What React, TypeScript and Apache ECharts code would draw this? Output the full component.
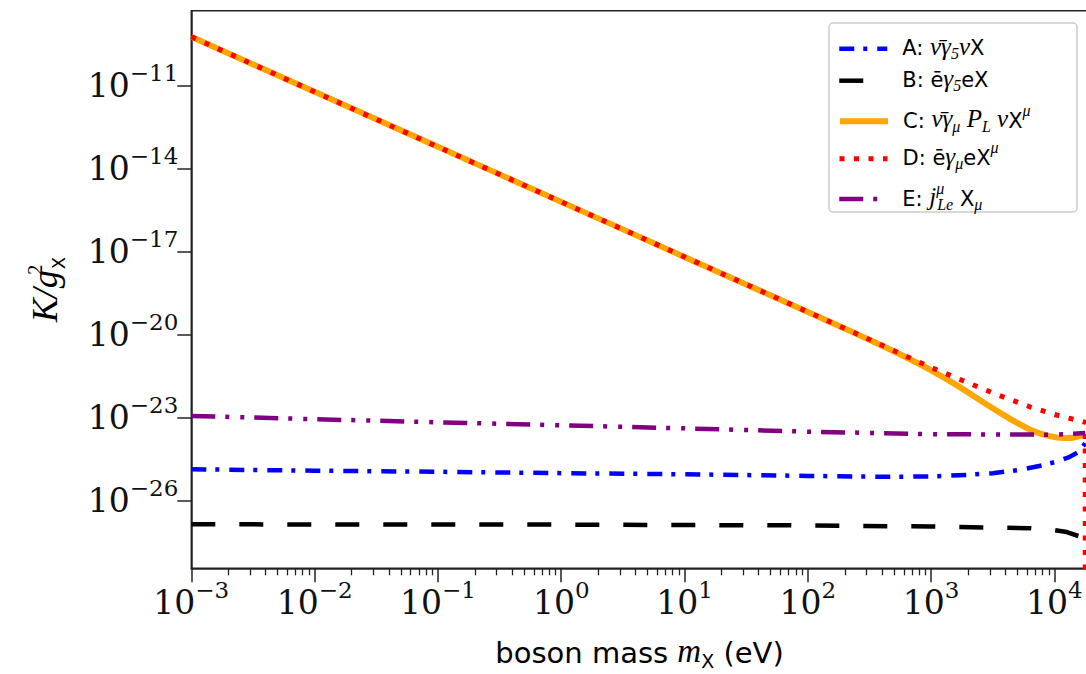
import React, { useEffect, useRef } from "react";
import * as echarts from "echarts";

// log10 of boson mass (eV) and log10 of K/g^2 for each curve
const xA = [-3, -2, -1, 0, 1, 2, 2.6, 3, 3.3, 3.5, 3.72, 3.9, 4.02, 4.12, 4.2, 4.25];
const yA = [-24.88, -24.93, -24.97, -25.02, -25.06, -25.12, -25.15, -25.14, -25.08, -25.02, -24.9, -24.74, -24.6, -24.44, -24.24, -23.94];

const xB = [-3, 0, 2, 3, 3.8, 4, 4.1, 4.2, 4.25];
const yB = [-26.87, -26.88, -26.91, -26.95, -27.01, -27.08, -27.15, -27.3, -27.4];

const xC = [-3, -2, -1, 0, 1, 2, 2.3, 2.586, 2.8, 3, 3.2, 3.41, 3.6, 3.72, 3.8, 3.88, 3.97, 4.07, 4.15, 4.25];
const yC = [-9.245, -11.234, -13.223, -15.212, -17.201, -19.19, -19.79, -20.38, -20.84, -21.3, -21.82, -22.42, -22.95, -23.26, -23.44, -23.58, -23.69, -23.75, -23.74, -23.62];

const xD = [-3, 2, 2.5, 3, 3.5, 3.8, 4, 4.25, 4.25];
const yD = [-9.245, -19.19, -20.19, -21.2, -22.12, -22.62, -22.9, -23.18, -29];

const xE = [-3, -2, -1, 0, 1, 2, 3, 4, 4.25];
const yE = [-22.95, -23.07, -23.18, -23.29, -23.4, -23.52, -23.61, -23.63, -23.57];

const xTickExps = [-3, -2, -1, 0, 1, 2, 3, 4];
const yTickExps = [-26, -23, -20, -17, -14, -11];
const minorMultipliers = [2, 3, 4, 5, 6, 7, 8, 9];

const X_MIN = -3;
const X_MAX = 4.27;
const Y_MIN = -28.46;
const Y_MAX = -8.3;

const seriesNames = ["A", "B", "C", "D", "E"];
const legendTexts: Record<string, string> = {
  A: "{g| }{t|A: }{m|ν̄γ}{sub|5}{m|ν}{t|X}",
  B: "{g| }{t|B: ē}{m|γ}{sub|5}{t|eX}",
  C: "{g| }{t|C: }{m|ν̄γ}{sub|μ}{m| P}{sub|L}{m| ν}{t|X}{sup|μ}",
  D: "{g| }{t|D: ē}{m|γ}{sub|μ}{t|eX}{sup|μ}",
  E: "{g| }{t|E: }{m|j}{supz|μ}{sub|Le}{t| X}{sub|μ}",
};
const legendCentersY = [40.7, 72.7, 109.3, 146.7, 187];

const colors = ["#0000ff", "#000000", "#ffa500", "#ff0000", "#800080"];
const widths = [4.5, 4.5, 6, 5, 4.5];
const dashes: (number[] | string)[] = [[15, 9, 4, 10], [24, 24], "solid", [5, 9.5], [24, 10, 4, 11, 4, 10]];
const smoothing = [false, false, 0.25, false, false];

const pairs = (xs: number[], ys: number[]) => xs.map((x, i) => [x, ys[i]]);

const expLabel = (v: number) => {
  const n = Math.round(v);
  const s = n < 0 ? "−" + Math.abs(n) : String(n);
  return `{b|10}{s|${s}}`;
};

const tickRich = {
  b: { fontFamily: "DejaVu Serif", fontSize: 33, lineHeight: 34, color: "#111", verticalAlign: "bottom" },
  s: { fontFamily: "DejaVu Serif", fontSize: 23, lineHeight: 24, color: "#111", verticalAlign: "bottom", padding: [0, 0, 18, 0] },
};

const legendRich = {
  g: { width: 10, fontSize: 10 },
  t: { fontFamily: "DejaVu Sans", fontSize: 21, lineHeight: 26, color: "#000", verticalAlign: "bottom", padding: [0, 0, 3, 0] },
  m: { fontFamily: "Liberation Serif", fontStyle: "italic", fontSize: 25, lineHeight: 26, color: "#000", verticalAlign: "bottom", padding: [0, 0, 3, 0] },
  sub: { fontFamily: "Liberation Serif", fontStyle: "italic", fontSize: 16, lineHeight: 15, color: "#000", verticalAlign: "bottom" },
  sup: { fontFamily: "Liberation Serif", fontStyle: "italic", fontSize: 16, lineHeight: 15, color: "#000", verticalAlign: "bottom", padding: [0, 0, 16, 0] },
  supz: { fontFamily: "Liberation Serif", fontStyle: "italic", fontSize: 16, lineHeight: 15, width: 1, color: "#000", verticalAlign: "bottom", padding: [0, 0, 16, 0] },
};

export default function App() {
  const ref = useRef<HTMLDivElement>(null);
  useEffect(() => {
    if (!ref.current) return;
    const chart = echarts.init(ref.current, undefined, { renderer: "svg" });
    const xMinor: number[] = [];
    xTickExps.forEach((n) => {
      minorMultipliers.forEach((k) => {
        const v = n + Math.log10(k);
        if (v < X_MAX) xMinor.push(v);
      });
    });
    const datas = [pairs(xA, yA), pairs(xB, yB), pairs(xC, yC), pairs(xD, yD), pairs(xE, yE)];
    const series = seriesNames.map((name, i) => ({
      name,
      type: "line",
      data: datas[i],
      symbol: "none",
      showSymbol: false,
      smooth: smoothing[i],
      clip: true,
      z: 2 + i,
      itemStyle: { color: colors[i] },
      lineStyle: { color: colors[i], width: widths[i], type: dashes[i], cap: "butt" },
    }));
    const legends = seriesNames.map((name, i) => ({
      data: [name],
      left: 837,
      top: legendCentersY[i] - 7,
      padding: 0,
      itemWidth: 48,
      itemHeight: 14,
      selectedMode: false,
      z: 5,
      itemStyle: { opacity: 0, color: "transparent", borderWidth: 0 },
      lineStyle: { color: colors[i], width: widths[i], type: dashes[i], cap: "butt" },
      formatter: (n: string) => legendTexts[n],
      textStyle: { rich: legendRich },
    }));
    const axisColor = "#222";
    chart.setOption({
      animation: false,
      grid: {
        left: 191.3,
        top: 10.7,
        width: 896.4,
        height: 557.6,
        show: true,
        borderColor: axisColor,
        borderWidth: 1.5,
        backgroundColor: "transparent",
        containLabel: false,
        outerBoundsMode: "none",
      },
      graphic: [
        {
          type: "rect",
          z: 4,
          shape: { x: 829, y: 23, width: 248, height: 189, r: 4 },
          style: { fill: "rgba(255,255,255,0.85)", stroke: "#cccccc", lineWidth: 1.5 },
        },
      ],
      legend: legends,
      xAxis: [
        {
          type: "value",
          min: X_MIN,
          max: X_MAX,
          position: "bottom",
          axisLine: { show: true, onZero: false, lineStyle: { color: axisColor, width: 1.5 } },
          axisTick: { show: true, length: 14, customValues: xTickExps, lineStyle: { color: axisColor, width: 1.5 } },
          axisLabel: { customValues: xTickExps, formatter: expLabel, margin: 17, rich: tickRich },
          splitLine: { show: false },
          name: "{t|boson mass }{i|m}{sub|X}{t| (eV)}",
          nameLocation: "middle",
          nameGap: 72,
          nameTextStyle: {
            rich: {
              t: { fontFamily: "DejaVu Sans", fontSize: 29, lineHeight: 30, color: "#000", verticalAlign: "bottom", padding: [0, 0, 3, 0] },
              i: { fontFamily: "Liberation Serif", fontStyle: "italic", fontSize: 33, lineHeight: 30, color: "#000", verticalAlign: "bottom", padding: [0, 0, 3, 0] },
              sub: { fontFamily: "DejaVu Sans", fontSize: 19, lineHeight: 18, color: "#000", verticalAlign: "bottom" },
            },
          },
        },
        {
          type: "value",
          min: X_MIN,
          max: X_MAX,
          position: "bottom",
          axisLine: { show: false, onZero: false },
          axisTick: { show: true, length: 7, customValues: xMinor, lineStyle: { color: axisColor, width: 1.3 } },
          axisLabel: { show: false },
          splitLine: { show: false },
        },
      ],
      yAxis: {
        type: "value",
        min: Y_MIN,
        max: Y_MAX,
        axisLine: { show: true, onZero: false, lineStyle: { color: axisColor, width: 1.5 } },
        axisTick: { show: true, length: 14, customValues: yTickExps, lineStyle: { color: axisColor, width: 1.5 } },
        axisLabel: { customValues: yTickExps, formatter: expLabel, margin: 13, rich: tickRich },
        splitLine: { show: false },
        name: "{i|K/g}{sup|2}{sub|X}",
        nameLocation: "middle",
        nameGap: 124,
        nameRotate: 90,
        nameTextStyle: {
          rich: {
            i: { fontFamily: "Liberation Serif", fontStyle: "italic", fontSize: 36, lineHeight: 36, color: "#000", verticalAlign: "bottom", padding: [0, 0, 4, 0] },
            sub: { fontFamily: "DejaVu Sans", fontSize: 18, lineHeight: 18, color: "#000", verticalAlign: "bottom" },
            sup: { fontFamily: "Liberation Serif", fontSize: 20, lineHeight: 20, width: 1, color: "#000", verticalAlign: "bottom", padding: [0, 0, 22, 0] },
          },
        },
      },
      series,
    });
    return () => chart.dispose();
  }, []);
  return (
    <div
      ref={ref}
      style={{ position: "absolute", left: 0, top: 0, width: 1086, height: 674, background: "#fff" }}
    />
  );
}
